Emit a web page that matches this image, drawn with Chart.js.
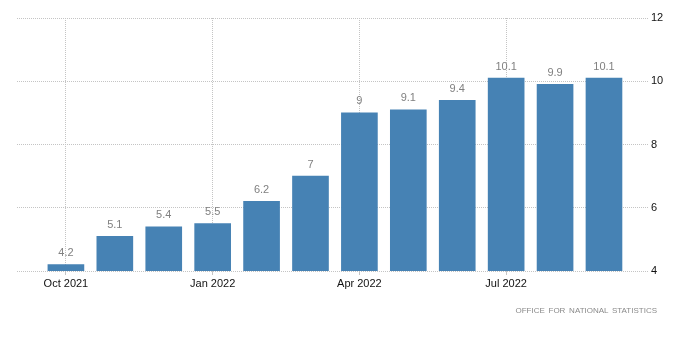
<!DOCTYPE html>
<html>
<head>
<meta charset="utf-8">
<script src="https://cdn.jsdelivr.net/npm/chart.js@4/dist/chart.umd.min.js"></script>
<style>
  html, body { margin: 0; padding: 0; background: #fff; }
  #wrap { position: relative; width: 700px; height: 362px; }
  #src { position: absolute; right: 43px; top: 306px; font: 8px "Liberation Sans", Arial, sans-serif; color: #8a8a8a; letter-spacing: 0; word-spacing: 1.5px; white-space: nowrap; }
</style>
</head>
<body>
<div id="wrap">
  <canvas id="c" width="700" height="362"></canvas>
  <div id="src">OFFICE FOR NATIONAL STATISTICS</div>
</div>
<script>
const categories = ['Oct 2021','Nov 2021','Dec 2021','Jan 2022','Feb 2022','Mar 2022','Apr 2022','May 2022','Jun 2022','Jul 2022','Aug 2022','Sep 2022'];
const values = [4.2, 5.1, 5.4, 5.5, 6.2, 7, 9, 9.1, 9.4, 10.1, 9.9, 10.1];
const xTickIndex = [0, 3, 6, 9];
const yTicks = [4, 6, 8, 10, 12];

const points = values.map((v, i) => ({ x: i, y: v }));

const labelPlugin = {
  id: 'valueLabels',
  afterDatasetsDraw(chart) {
    const ctx = chart.ctx;
    const meta = chart.getDatasetMeta(0);
    ctx.save();
    ctx.font = '11px "Liberation Sans", Arial, sans-serif';
    ctx.fillStyle = '#808080';
    ctx.textAlign = 'center';
    ctx.textBaseline = 'bottom';
    meta.data.forEach((el, i) => {
      ctx.fillText(String(values[i]), el.x, el.y - 6);
    });
    ctx.restore();
  }
};

new Chart(document.getElementById('c'), {
  type: 'bar',
  data: {
    datasets: [{
      data: points,
      backgroundColor: '#4682b4',
      borderWidth: 0,
      barThickness: 36
    }]
  },
  options: {
    responsive: false,
    animation: false,
    layout: { padding: { left: 17, top: 18, right: 0, bottom: 0 } },
    plugins: { legend: { display: false }, tooltip: { enabled: false } },
    scales: {
      x: {
        type: 'linear',
        offset: false,
        min: -1,
        max: 11.9,
        afterBuildTicks(scale) { scale.ticks = xTickIndex.map(v => ({ value: v })); },
        afterFit(scale) { scale.height = 91; },
        border: { display: false, dash: [1, 1] },
        grid: { offset: false, color: '#c4c4c4', tickLength: 4, drawTicks: true, tickColor: '#c4c4c4' },
        ticks: {
          padding: 2,
          color: '#111',
          font: { family: '"Liberation Sans", Arial, sans-serif', size: 11 },
          maxRotation: 0,
          callback: (v) => categories[v]
        }
      },
      y: {
        position: 'right',
        min: 4,
        max: 12,
        afterBuildTicks(scale) { scale.ticks = yTicks.map(v => ({ value: v })); },
        afterFit(scale) { scale.width = 52; },
        border: { display: false, dash: [1, 1] },
        grid: { color: '#c4c4c4', drawTicks: false },
        ticks: {
          padding: 3,
          color: '#111',
          font: { family: '"Liberation Sans", Arial, sans-serif', size: 11 }
        }
      }
    }
  },
  plugins: [labelPlugin]
});
</script>
</body>
</html>
